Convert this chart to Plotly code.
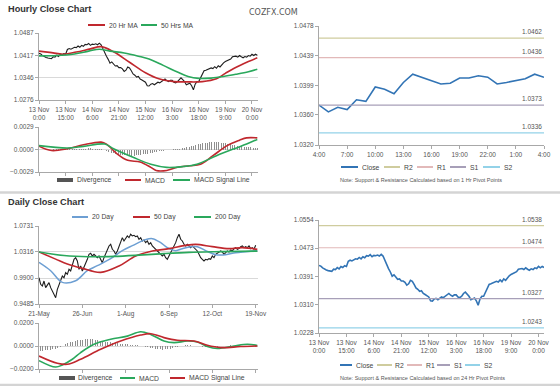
import plotly.graph_objects as go

# ---------------- data ----------------
hourly_tickpos = [0, 15, 30, 45, 60, 75, 90, 105, 120]
hourly_ticktext = ["13 Nov<br>0:00", "13 Nov<br>15:00", "14 Nov<br>6:00", "14 Nov<br>21:00",
                   "15 Nov<br>12:00", "16 Nov<br>3:00", "16 Nov<br>18:00", "19 Nov<br>9:00", "20 Nov<br>0:00"]

hourly_close = [
    1.0423, 1.0421, 1.0416, 1.0412, 1.0410, 1.0408, 1.0408, 1.0406, 1.0412, 1.0411,
    1.0417, 1.0413, 1.0420, 1.0417, 1.0422, 1.0420, 1.0435, 1.0438, 1.0436, 1.0440,
    1.0442, 1.0441, 1.0446, 1.0442, 1.0448, 1.0445, 1.0451, 1.0450, 1.0454, 1.0448,
    1.0452, 1.0451, 1.0453, 1.0450, 1.0455, 1.0450, 1.0436, 1.0425, 1.0414, 1.0404,
    1.0392, 1.0396, 1.0389, 1.0383, 1.0384, 1.0378, 1.0378, 1.0374, 1.0366, 1.0370,
    1.0380, 1.0377, 1.0368, 1.0358, 1.0354, 1.0348, 1.0350, 1.0342, 1.0339, 1.0335,
    1.0332, 1.0321, 1.0320, 1.0326, 1.0328, 1.0324, 1.0329, 1.0332, 1.0330, 1.0334,
    1.0336, 1.0342, 1.0337, 1.0334, 1.0338, 1.0338, 1.0332, 1.0330, 1.0334, 1.0342,
    1.0346, 1.0340, 1.0334, 1.0324, 1.0326, 1.0329, 1.0321, 1.0308, 1.0326, 1.0334,
    1.0334, 1.0345, 1.0358, 1.0368, 1.0370, 1.0372, 1.0373, 1.0377, 1.0375, 1.0381,
    1.0376, 1.0384, 1.0380, 1.0388, 1.0393, 1.0397, 1.0400, 1.0404, 1.0405, 1.0412,
    1.0414, 1.0414, 1.0411, 1.0416, 1.0412, 1.0409, 1.0413, 1.0411, 1.0416, 1.0414,
    1.0420, 1.0416, 1.0420, 1.0417]

ma20_hr_x = [0, 6, 14, 21, 29, 35, 42, 51, 60, 68, 76, 84, 92, 100, 105, 110, 118, 123]
ma20_hr = [1.0430, 1.0426, 1.0420, 1.0427, 1.0437, 1.0444, 1.0428, 1.0395, 1.0362, 1.0342,
           1.0334, 1.0333, 1.0334, 1.0343, 1.0360, 1.0376, 1.0397, 1.0409]
ma50_hr_x = [0, 10, 20, 28, 34, 40, 48, 56, 62, 70, 78, 84, 90, 97, 104, 111, 118, 123]
ma50_hr = [1.0415, 1.0416, 1.0421, 1.0430, 1.0436, 1.0430, 1.0424, 1.0414, 1.0405, 1.0385,
           1.0364, 1.0350, 1.0344, 1.0345, 1.0350, 1.0357, 1.0365, 1.0373]

hr_macd_x = [0, 7, 16, 25, 35, 38, 44, 50, 57, 63, 66, 72, 78, 85, 91, 98, 106, 113, 117, 123]
hr_macd = [0.00043, -0.00013, 0.0001, 0.0006, 0.00095, 0.0007, -0.00056, -0.0014, -0.0016, -0.0023,
           -0.0027, -0.0027, -0.0023, -0.0021, -0.0019, -0.0008, 0.0005, 0.0012, 0.0015, 0.0015]
hr_signal_x = [0, 16, 25, 37, 42, 53, 63, 72, 81, 89, 100, 110, 117, 123]
hr_signal = [0.0005, 0.0002, 0.0004, 0.0007, 0.0001, -0.0010, -0.0019, -0.0023, -0.0022, -0.0019,
             -0.0008, 0.0001, 0.0007, 0.0013]
hr_div = [
    -0.00005, -0.00006, -0.00005, -0.00004, -0.00003, -0.00002, -0.00001, 0.0, 0.00001, 0.00002,
    0.00003, 0.00004, 0.00005, 0.00006, 0.00006, 0.00007, 0.00008, 0.00008, 0.00009, 0.00009,
    0.0001, 0.0001, 0.00011, 0.00011, 0.00012, 0.00012, 0.00012, 0.00013, 0.00013, 0.00013,
    0.00012, 0.00011, 0.0001, 0.00008, 0.00005, 0.00002, -0.00003, -0.0001, -0.00018, -0.00026,
    -0.00034, -0.00042, -0.0005, -0.00056, -0.00062, -0.00066, -0.0007, -0.00072, -0.00074, -0.00075,
    -0.00076, -0.00078, -0.0008, -0.0008, -0.00078, -0.00076, -0.00072, -0.00068, -0.00064, -0.0006,
    -0.00056, -0.00052, -0.00048, -0.00044, -0.0004, -0.00036, -0.00032, -0.00028, -0.00024, -0.0002,
    -0.00016, -0.00012, -0.00008, -0.00005, -0.00003, -0.00001, 0.00001, 0.00003, 0.00005, 0.00008,
    0.00012, 0.00016, 0.0002, 0.00026, 0.00032, 0.00038, 0.00044, 0.0005, 0.00056, 0.00062,
    0.00068, 0.00074, 0.0008, 0.00084, 0.00088, 0.0009, 0.00092, 0.00094, 0.00095, 0.00095,
    0.00094, 0.00092, 0.0009, 0.00086, 0.00082, 0.00078, 0.00074, 0.0007, 0.00066, 0.00062,
    0.00058, 0.00054, 0.0005, 0.00046, 0.00042, 0.00038, 0.00034, 0.0003, 0.00028, 0.00026,
    0.00024, 0.00022, 0.0002, 0.00018]

pivot_tickpos = [0, 3, 6, 9, 12, 15, 18, 21, 24]
pivot_ticktext = ["4:00", "7:00", "10:00", "13:00", "16:00", "19:00", "22:00", "1:00", "4:00"]
pivot_close = [1.0373, 1.0364, 1.0370, 1.0367, 1.0380, 1.0378, 1.0397, 1.0394, 1.0388, 1.0403,
               1.0414, 1.0410, 1.0405, 1.0401, 1.0402, 1.0409, 1.0409, 1.0412, 1.0410, 1.0401,
               1.0403, 1.0405, 1.0408, 1.0414, 1.0410]
level_names = ["R2", "R1", "S1", "S2"]
levels_1h = [1.0462, 1.0436, 1.0373, 1.0336]
levels_24h = [1.0538, 1.0474, 1.0327, 1.0243]

daily_tickpos = [0, 26, 52, 78, 104, 130]
daily_ticktext = ["21-May", "26-Jun", "1-Aug", "6-Sep", "12-Oct", "19-Nov"]
daily_close = [
    0.9906, 0.9799, 0.9772, 0.9852, 0.9746, 0.9799, 0.9826, 0.9746, 0.9692, 0.9639,
    0.9585, 0.9719, 0.9799, 0.9852, 0.9932, 0.9906, 0.9986, 0.9959, 1.0039, 1.0012,
    1.0119, 1.0199, 1.0225, 1.0172, 1.0039, 1.0092, 1.0012, 1.0066, 1.0119, 1.0199,
    1.0279, 1.0295, 1.0252, 1.0279, 1.0252, 1.0225, 1.0252, 1.0199, 1.0145, 1.0225,
    1.0279, 1.0359, 1.0412, 1.0439, 1.0359, 1.0332, 1.0279, 1.0332, 1.0412, 1.0465,
    1.0545, 1.0492, 1.0545, 1.0572, 1.0545, 1.0599, 1.0572, 1.0583, 1.0561, 1.0572,
    1.0519, 1.0545, 1.0492, 1.0508, 1.0465, 1.0492, 1.0439, 1.0465, 1.0412, 1.0385,
    1.0359, 1.0332, 1.0305, 1.0279, 1.0252, 1.0279, 1.0225, 1.0199, 1.0252, 1.0305,
    1.0359, 1.0412, 1.0465, 1.0545, 1.0599, 1.0519, 1.0492, 1.0439, 1.0412, 1.0439,
    1.0412, 1.0385, 1.0412, 1.0385, 1.0359, 1.0332, 1.0279, 1.0225, 1.0199, 1.0172,
    1.0199, 1.0188, 1.0209, 1.0199, 1.0252, 1.0225, 1.0279, 1.0295, 1.0305, 1.0332,
    1.0316, 1.0279, 1.0305, 1.0332, 1.0316, 1.0348, 1.0332, 1.0369, 1.0385, 1.0359,
    1.0369, 1.0401, 1.0412, 1.0385, 1.0401, 1.0385, 1.0412, 1.0369, 1.0385, 1.0359,
    1.0423]

ma20d_x = [0, 7, 14, 22, 29, 35, 43, 50, 56, 64, 68, 73, 77, 82, 86, 91, 95, 100, 106, 112, 118, 124, 131]
ma20d = [1.0150, 1.0017, 0.9830, 0.9857, 1.0017, 1.0097, 1.0209, 1.0337, 1.0417, 1.0513, 1.0529,
         1.0465, 1.0385, 1.0337, 1.0369, 1.0401, 1.0401, 1.0337, 1.0273, 1.0273, 1.0305, 1.0321, 1.0337]
ma50d_x = [0, 10, 17, 26, 37, 48, 58, 68, 78, 88, 94, 104, 114, 122, 131]
ma50d = [1.0316, 1.0202, 1.0124, 1.0054, 0.9990, 1.0092, 1.0252, 1.0332, 1.0369, 1.0422, 1.0438,
         1.0401, 1.0369, 1.0385, 1.0358]
ma200d_x = [0, 15, 30, 45, 60, 75, 90, 105, 120, 131]
ma200d = [1.0316, 1.0260, 1.0240, 1.0245, 1.0265, 1.0290, 1.0310, 1.0320, 1.0325, 1.0330]

d_macd_x = [0, 10, 14, 20, 25, 33, 43, 53, 61, 67, 75, 81, 89, 95, 101, 107, 117, 125, 131]
d_macd = [-0.0127, -0.0183, -0.0165, -0.0115, -0.0057, 0.0015, 0.0058, 0.0086, 0.0124, 0.0101,
          0.0043, 0.0029, 0.0043, 0.0035, -0.0005, -0.0022, 0.0000, 0.0015, 0.0005]
d_signal_x = [0, 11, 17, 25, 37, 49, 61, 67, 75, 83, 93, 101, 109, 121, 131]
d_signal = [-0.0087, -0.0150, -0.0159, -0.0115, -0.0029, 0.0043, 0.0095, 0.0107, 0.0073, 0.0050,
            0.0043, 0.0006, -0.0014, -0.0005, 0.0000]
d_div = [
    -0.0040, -0.0042, -0.0043, -0.0040, -0.0038, -0.0036, -0.0035, -0.0033, -0.0030, -0.0028,
    -0.0025, -0.0020, -0.0014, -0.0008,
    0.0000, 0.0008, 0.0015, 0.0022, 0.0028, 0.0034, 0.0039, 0.0043, 0.0047,
    0.0050, 0.0053, 0.0055, 0.0056, 0.0058, 0.0059, 0.0060, 0.0060, 0.0059, 0.0058, 0.0056, 0.0054,
    0.0052, 0.0050, 0.0047,
    0.0044, 0.0041, 0.0038, 0.0036, 0.0034, 0.0032, 0.0030, 0.0028, 0.0026, 0.0024, 0.0022, 0.0020,
    0.0018, 0.0016, 0.0015, 0.0014, 0.0013, 0.0012, 0.0011, 0.0010, 0.0008, 0.0006, 0.0004,
    0.0002, 0.0000, -0.0003, -0.0006,
    -0.0009, -0.0012, -0.0015, -0.0018, -0.0021, -0.0024, -0.0026, -0.0028, -0.0030, -0.0031,
    -0.0031, -0.0030, -0.0028, -0.0025, -0.0022, -0.0019, -0.0016, -0.0012, -0.0008, -0.0005, -0.0002,
    0.0002, 0.0004, 0.0005, 0.0006, 0.0006, 0.0005, 0.0004, 0.0003, 0.0002, 0.0000,
    -0.0002, -0.0004, -0.0006, -0.0008, -0.0010, -0.0011, -0.0012, -0.0012, -0.0011, -0.0010,
    -0.0008, -0.0006, -0.0004, -0.0002, 0.0000, 0.0002, 0.0003, 0.0004, 0.0005, 0.0005,
    0.0004, 0.0003, 0.0002, 0.0001, 0.0000, -0.0001, -0.0002, -0.0002, -0.0001, 0.0000,
    0.0001, 0.0002, 0.0002, 0.0001, 0.0000]

# ---------------- styling ----------------
W, H = 560, 386
FONT = "Liberation Sans, Arial, sans-serif"
RED = "#c0282e"
GREEN = "#2aa85c"
BLUE_MA = "#6d9fd3"
CLOSE_BLUE = "#3274b5"
LEVEL_COLORS = ["#cfcc9e", "#e2b9b9", "#a79fb8", "#93d2e8"]
DIV_COLOR = "#8f8f8f"
AXC = "#a8a8a8"
GRID = "#d9d9d9"


def xdom(a, b):
    return [a / W, b / W]


def ydom(top, bot):
    return [1 - bot / H, 1 - top / H]


def px(xp):
    return xp / W


def py(yp):
    return 1 - yp / H


fig = go.Figure()
hx = list(range(len(hourly_close)))
dx = list(range(len(daily_close)))
pxs = list(range(len(pivot_close)))

# --- hourly main
fig.add_trace(go.Scatter(x=hx, y=hourly_close, mode="lines", line=dict(color="#1e1e1e", width=1.1),
                         xaxis="x", yaxis="y"))
fig.add_trace(go.Scatter(x=ma20_hr_x, y=ma20_hr, mode="lines", name="20 Hr MA",
                         line=dict(color=RED, width=1.6, shape="spline"), xaxis="x", yaxis="y"))
fig.add_trace(go.Scatter(x=ma50_hr_x, y=ma50_hr, mode="lines", name="50 Hrs MA",
                         line=dict(color=GREEN, width=1.6, shape="spline"), xaxis="x", yaxis="y"))

# --- hourly MACD
fig.add_trace(go.Bar(x=list(range(len(hr_div))), y=hr_div, name="Divergence", marker_color=DIV_COLOR,
                     marker_line_width=0, width=0.45, xaxis="x2", yaxis="y2"))
fig.add_trace(go.Scatter(x=hr_macd_x, y=hr_macd, mode="lines", name="MACD",
                         line=dict(color=RED, width=1.6, shape="spline"), xaxis="x2", yaxis="y2"))
fig.add_trace(go.Scatter(x=hr_signal_x, y=hr_signal, mode="lines", name="MACD Signal Line",
                         line=dict(color=GREEN, width=1.6, shape="spline"), xaxis="x2", yaxis="y2"))

# --- top right pivot
fig.add_trace(go.Scatter(x=pxs, y=pivot_close, mode="lines", name="Close",
                         line=dict(color=CLOSE_BLUE, width=1.6), xaxis="x3", yaxis="y3"))
for nm, v, c in zip(level_names, levels_1h, LEVEL_COLORS):
    fig.add_trace(go.Scatter(x=[pxs[0], pxs[-1]], y=[v, v], mode="lines", name=nm,
                             line=dict(color=c, width=1.2), xaxis="x3", yaxis="y3"))
    fig.add_annotation(x=pxs[-1], y=v, xref="x3", yref="y3", text=f"{v:.4f}", showarrow=False,
                       xanchor="right", yanchor="bottom", yshift=1, font=dict(size=6.5, color="#555", family=FONT))

# --- daily main
fig.add_trace(go.Scatter(x=dx, y=daily_close, mode="lines", line=dict(color="#1e1e1e", width=1.1),
                         xaxis="x4", yaxis="y4"))
fig.add_trace(go.Scatter(x=ma20d_x, y=ma20d, mode="lines", name="20 Day",
                         line=dict(color=BLUE_MA, width=1.5, shape="spline"), xaxis="x4", yaxis="y4"))
fig.add_trace(go.Scatter(x=ma50d_x, y=ma50d, mode="lines", name="50 Day",
                         line=dict(color=RED, width=1.6, shape="spline"), xaxis="x4", yaxis="y4"))
fig.add_trace(go.Scatter(x=ma200d_x, y=ma200d, mode="lines", name="200 Day",
                         line=dict(color=GREEN, width=1.6, shape="spline"), xaxis="x4", yaxis="y4"))

# --- daily MACD
fig.add_trace(go.Bar(x=list(range(len(d_div))), y=d_div, name="Divergence", marker_color=DIV_COLOR,
                     marker_line_width=0, width=0.45, xaxis="x5", yaxis="y5"))
fig.add_trace(go.Scatter(x=d_macd_x, y=d_macd, mode="lines", name="MACD",
                         line=dict(color=GREEN, width=1.6, shape="spline"), xaxis="x5", yaxis="y5"))
fig.add_trace(go.Scatter(x=d_signal_x, y=d_signal, mode="lines", name="MACD Signal Line",
                         line=dict(color=RED, width=1.6, shape="spline"), xaxis="x5", yaxis="y5"))

# --- bottom right pivot (24h)
fig.add_trace(go.Scatter(x=hx, y=hourly_close, mode="lines", name="Close",
                         line=dict(color=CLOSE_BLUE, width=1.6), xaxis="x6", yaxis="y6"))
for nm, v, c in zip(level_names, levels_24h, LEVEL_COLORS):
    fig.add_trace(go.Scatter(x=[hx[0], hx[-1]], y=[v, v], mode="lines", name=nm,
                             line=dict(color=c, width=1.2), xaxis="x6", yaxis="y6"))
    fig.add_annotation(x=hx[-1], y=v, xref="x6", yref="y6", text=f"{v:.4f}", showarrow=False,
                       xanchor="right", yanchor="bottom", yshift=1, font=dict(size=6.5, color="#555", family=FONT))

tickfont = dict(size=6.5, color="#555", family=FONT)


def xax(dom, anchor, rng, tickvals=None, ticktext=None, labels=True):
    return dict(domain=dom, anchor=anchor, range=rng, showline=True, linecolor=AXC, linewidth=1,
                ticks="outside", tickcolor=AXC, ticklen=3, tickvals=tickvals, ticktext=ticktext,
                showticklabels=labels, tickfont=tickfont, showgrid=False, zeroline=False,
                fixedrange=True, automargin=False)


def yax(dom, anchor, rng, tickvals, grid=True):
    return dict(domain=dom, anchor=anchor, range=rng, showline=True, linecolor=AXC, linewidth=1,
                ticks="outside", tickcolor=AXC, ticklen=3, tickvals=tickvals, tickformat=".4f",
                tickfont=tickfont, showgrid=grid, gridcolor=GRID, gridwidth=1, zeroline=False,
                fixedrange=True, automargin=False)


fig.update_layout(
    width=W, height=H, margin=dict(l=0, r=0, t=0, b=0, autoexpand=False),
    paper_bgcolor="white", plot_bgcolor="white", font=dict(family=FONT),
    showlegend=False, bargap=0,
    xaxis=xax(xdom(39, 258), "y", [0, 123.4], hourly_tickpos, hourly_ticktext),
    yaxis=yax(ydom(33, 100), "x", [1.0276, 1.0487], [1.0276, 1.0346, 1.0417, 1.0487]),
    xaxis2=xax(xdom(39, 258), "y2", [0, 123.4], hourly_tickpos, None, labels=False),
    yaxis2=yax(ydom(127, 172), "x2", [-0.0029, 0.0029], [-0.0029, 0.0, 0.0029]),
    xaxis3=xax(xdom(319, 544), "y3", [0, 24], pivot_tickpos, pivot_ticktext),
    yaxis3=yax(ydom(26, 145), "x3", [1.0320, 1.0478], [1.0320, 1.0360, 1.0399, 1.0439, 1.0478], grid=False),
    xaxis4=xax(xdom(39, 258), "y4", [0, 131.4], daily_tickpos, daily_ticktext),
    yaxis4=yax(ydom(226, 304), "x4", [0.9485, 1.0731], [0.9485, 0.9900, 1.0316, 1.0731]),
    xaxis5=xax(xdom(39, 258), "y5", [0, 131.4], daily_tickpos, None, labels=False),
    yaxis5=yax(ydom(323, 369), "x5", [-0.02, 0.02], [-0.02, 0.0, 0.02]),
    xaxis6=xax(xdom(319, 544), "y6", [0, 123], hourly_tickpos, hourly_ticktext),
    yaxis6=yax(ydom(220, 333), "x6", [1.0228, 1.0554], [1.0228, 1.0310, 1.0391, 1.0473, 1.0554], grid=False),
)

# ---------------- manual legends (layout decoration) ----------------
LEGFONT = dict(size=6.8, color="#444", family=FONT)


def legend_row(yc, items):
    # items: (kind, color, x0, x1, text)
    for kind, color, x0, x1, text in items:
        if kind == "bar":
            fig.add_shape(type="rect", xref="paper", yref="paper", x0=px(x0), x1=px(x1),
                          y0=py(yc + 2), y1=py(yc - 2), line=dict(width=0), fillcolor="#555555")
        else:
            fig.add_shape(type="line", xref="paper", yref="paper", x0=px(x0), x1=px(x1),
                          y0=py(yc), y1=py(yc), line=dict(color=color, width=2))
        fig.add_annotation(x=px(x1 + 1.5), y=py(yc), xref="paper", yref="paper", text=text,
                           showarrow=False, xanchor="left", yanchor="middle", font=LEGFONT)


legend_row(25, [("line", RED, 88, 105, "20 Hr MA"), ("line", GREEN, 141, 157, "50 Hrs MA")])
legend_row(180, [("bar", None, 57, 73, "Divergence"), ("line", RED, 125, 141, "MACD"),
                 ("line", GREEN, 173, 190, "MACD Signal Line")])
legend_row(167, [("line", CLOSE_BLUE, 341, 358, "Close"), ("line", LEVEL_COLORS[0], 384, 400, "R2"),
                 ("line", LEVEL_COLORS[1], 417, 433, "R1"), ("line", LEVEL_COLORS[2], 450, 466, "S1"),
                 ("line", LEVEL_COLORS[3], 483, 500, "S2")])
legend_row(217, [("line", BLUE_MA, 72, 88, "20 Day"), ("line", RED, 133, 150, "50 Day"),
                 ("line", GREEN, 194, 211, "200 Day")])
legend_row(378, [("bar", None, 59, 75, "Divergence"), ("line", GREEN, 120, 135, "MACD"),
                 ("line", RED, 170, 185, "MACD Signal Line")])
legend_row(365, [("line", CLOSE_BLUE, 340, 352, "Close"), ("line", LEVEL_COLORS[0], 377, 392, "R2"),
                 ("line", LEVEL_COLORS[1], 407, 422, "R1"), ("line", LEVEL_COLORS[2], 437, 450, "S1"),
                 ("line", LEVEL_COLORS[3], 465, 480, "S2")])

# titles & notes
fig.add_annotation(x=px(6), y=py(9), xref="paper", yref="paper", text="<b>Hourly Close Chart</b>",
                   showarrow=False, xanchor="left", yanchor="middle", font=dict(size=9.2, color="#333", family=FONT))
fig.add_annotation(x=px(6), y=py(202), xref="paper", yref="paper", text="<b>Daily Close Chart</b>",
                   showarrow=False, xanchor="left", yanchor="middle", font=dict(size=9.2, color="#333", family=FONT))
fig.add_annotation(x=px(273), y=py(12), xref="paper", yref="paper", text="COZFX.COM",
                   showarrow=False, xanchor="center", yanchor="middle",
                   font=dict(size=8, color="#555", family="DejaVu Sans, sans-serif"))
fig.add_annotation(x=px(421), y=py(180), xref="paper", yref="paper",
                   text="Note: Support & Resistance Calculated based on 1 Hr Pivot Points",
                   showarrow=False, xanchor="center", yanchor="middle", font=dict(size=5.5, color="#555", family=FONT))
fig.add_annotation(x=px(422), y=py(378), xref="paper", yref="paper",
                   text="Note: Support & Resistance Calculated based on 24 Hr Pivot Points",
                   showarrow=False, xanchor="center", yanchor="middle", font=dict(size=5.5, color="#555", family=FONT))

# separators
fig.add_shape(type="line", xref="paper", yref="paper", x0=0, x1=1, y0=py(192.5), y1=py(192.5),
              line=dict(color="#d4d4d4", width=2.5))
fig.add_shape(type="line", xref="paper", yref="paper", x0=0, x1=1, y0=py(385), y1=py(385),
              line=dict(color="#d4d4d4", width=2.5))

fig.write_html("out.html",
               config={"displayModeBar": False, "staticPlot": True},
               post_script="document.body.style.margin='0';document.body.style.padding='0';"
                           "document.documentElement.style.overflow='hidden';")
